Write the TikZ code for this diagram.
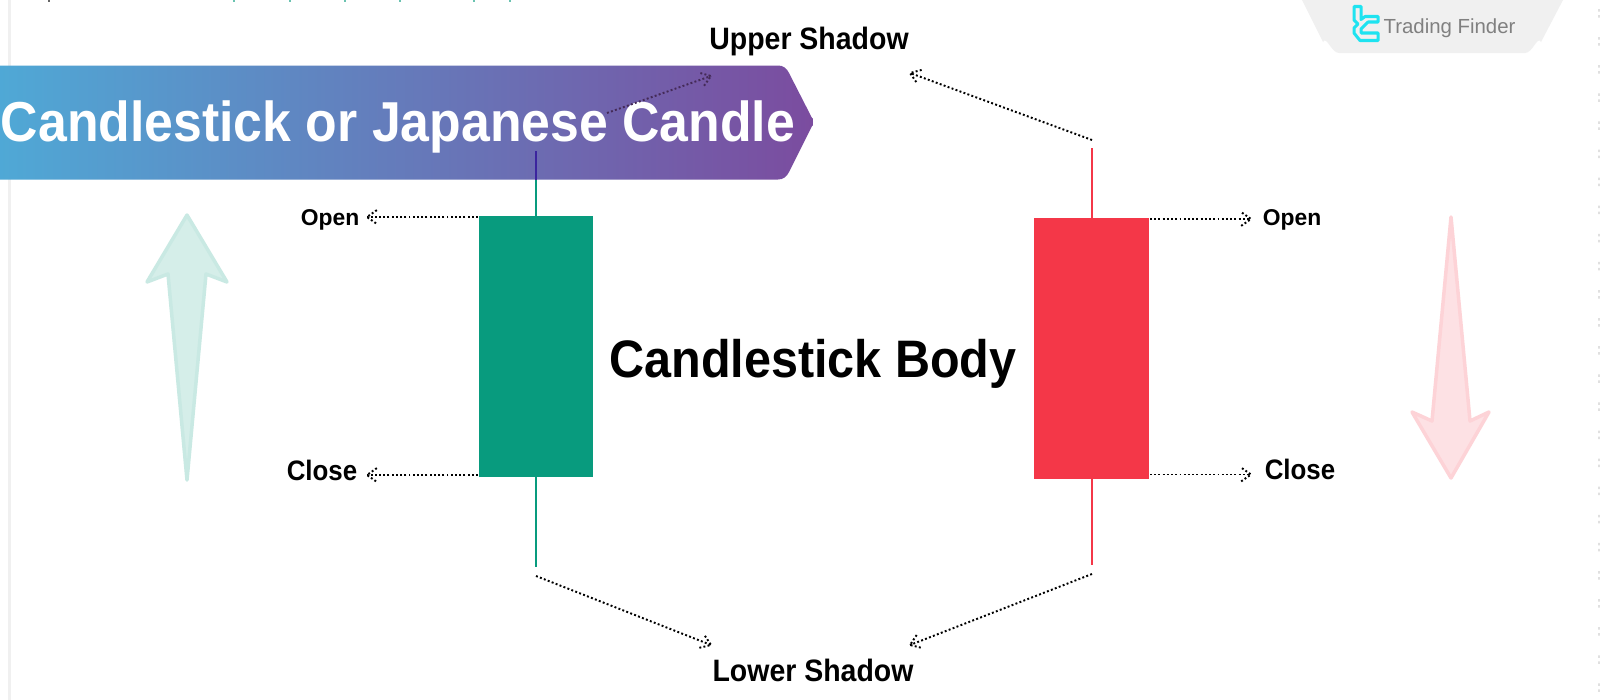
\documentclass[tikz,border=0pt]{standalone}
\usepackage{fontspec}
\setmainfont{Liberation Sans}
\newfontfamily\headfont[FakeStretch=0.92]{Liberation Sans}
\usetikzlibrary{calc}
\definecolor{candlegreen}{HTML}{089B7E}
\definecolor{candlered}{HTML}{F43748}
\definecolor{bannerleft}{HTML}{4FA9D6}
\definecolor{bannerright}{HTML}{7B4C9F}
\definecolor{logocyan}{HTML}{1EE3F0}
\tikzset{
  pointer/.style={line width=0.55pt,dash pattern=on 0.55pt off 0.65pt,black},
  caption/.style={font=\headfont\bfseries\fontsize{8}{10}\selectfont,inner sep=0pt},
  smallcaption/.style={font=\bfseries\fontsize{6.5}{8}\selectfont,inner sep=0pt},
  shadowlabel/.style={font=\headfont\bfseries\fontsize{8.8}{10}\selectfont,inner sep=0pt}
}
\newcommand{\barbline}[3][pointer]{%
  \draw[#1] (#2) -- (#3);
  \draw[#1] ($(#3)!0.12cm!35:(#2)$) -- (#3) -- ($(#3)!0.12cm!-35:(#2)$);
}
\begin{document}
\begin{tikzpicture}[x=0.01cm,y=-0.01cm]
  \useasboundingbox (0,0) rectangle (1600,700);
  \fill[white] (0,0) rectangle (1600,700);
  \draw[black!6,line width=0.2mm] (9.5,0) -- (9.5,700);

  % clipped marks along the edges
  \foreach \x in {234,290,345,400,474,510}
    \draw[candlegreen!60,line width=0.15mm] (\x,0) -- (\x,2);
  \draw[black!60,line width=0.15mm] (49,0) -- (49,2);
  \foreach \y in {0,...,24}
    \fill[black!12] (1598,{9+28.1*\y}) rectangle (1600,{11.5+28.1*\y}) (1598,{15+28.1*\y}) rectangle (1600,{17.5+28.1*\y});

  % logo tab
  \fill[black!6] (1302,0) -- (1323,42) to[out=63,in=180] (1339,53) -- (1525,53) to[out=0,in=117] (1541,42) -- (1563,0) -- cycle;
  \draw[logocyan,line width=0.3mm,line join=round] (1354,6.5) -- (1361,6.5) -- (1361,19.5) -- (1365,16.5) -- (1378,16.5) -- (1378,22)
    -- (1368,22) -- (1361,29) -- (1361,33) -- (1378,33) -- (1378,40.5) -- (1360,40.5) -- (1354,33) -- (1354,28) -- (1358,24) -- (1354,20) -- cycle;
  \node[inner sep=0pt,black!50] (logotext) at (1449.5,28) {\fontsize{5.8}{8}\selectfont Trading Finder};

  % banner
  \shade[left color=bannerleft,right color=bannerright]
    (-5,65.5) -- (778,65.5) to[out=0,in=115] (789,73) -- (812,118) to[out=65,in=-65] (812,126) -- (789,172) to[out=-115,in=0] (778,179.5) -- (-5,179.5) -- cycle;
  \node[inner sep=0pt,white,font=\headfont\bfseries\fontsize{16}{19}\selectfont] (title) at (398,127) {Candlestick or Japanese Candle};

  % trend arrows
  \draw[candlegreen!22,fill=candlegreen!17,line width=0.35mm,line join=round]
    (187,215) -- (227,282) -- (206,274) -- (187,480) -- (168,274) -- (147,282) -- cycle;
  \draw[candlered!22,fill=candlered!15,line width=0.35mm,line join=round]
    (1451,217) -- (1470,421) -- (1489,412) -- (1451,478) -- (1412,412) -- (1432,421) -- cycle;

  % candles
  \draw[candlegreen,line width=0.22mm] (536,179.5) -- (536,567);
  \draw[blue!40!bannerright!80!black,line width=0.22mm] (536,151) -- (536,179.5);
  \draw[candlered,line width=0.22mm] (1092,148) -- (1092,565);
  \node[fill=candlegreen,minimum width=1.146cm,minimum height=2.61cm,inner sep=0pt] (greenbody) at (536,346.5) {};
  \node[fill=candlered,minimum width=1.15cm,minimum height=2.61cm,inner sep=0pt] (redbody) at (1091.5,348.5) {};

  % labels
  \node[shadowlabel] (upper) at (809,41) {Upper Shadow};
  \node[shadowlabel] (lower) at (813,670) {Lower Shadow};
  \node[font=\headfont\bfseries\fontsize{15}{18}\selectfont,inner sep=0pt] (bodylabel) at (813,364) {Candlestick Body};
  \node[smallcaption] (openl) at (330,220) {Open};
  \node[caption] (closel) at (322,470) {Close};
  \node[smallcaption] (openr) at (1292,220) {Open};
  \node[caption] (closer) at (1300,469) {Close};

  % pointers
  \coordinate (openlstart) at (478,217);
  \coordinate (openlend) at (367,217);
  \coordinate (closelstart) at (478,475);
  \coordinate (closelend) at (367,475);
  \coordinate (openrstart) at (1150,219);
  \coordinate (openrend) at (1251,219);
  \coordinate (closerstart) at (1150,474.5);
  \coordinate (closerend) at (1251,474.5);
  \coordinate (uppergreen) at (607,113);
  \coordinate (uppergreenend) at (711,76);
  \coordinate (upperred) at (1092,140);
  \coordinate (upperredend) at (910,73);
  \coordinate (lowergreen) at (536,576);
  \coordinate (lowergreenend) at (711,645);
  \coordinate (lowerred) at (1092,574);
  \coordinate (lowerredend) at (910,645);
  \barbline{openlstart}{openlend}
  \barbline{closelstart}{closelend}
  \barbline{openrstart}{openrend}
  \barbline{closerstart}{closerend}
  \barbline[{pointer,bannerright!55!black}]{uppergreen}{uppergreenend}
  \barbline{upperred}{upperredend}
  \barbline{lowergreen}{lowergreenend}
  \barbline{lowerred}{lowerredend}
\end{tikzpicture}
\end{document}
